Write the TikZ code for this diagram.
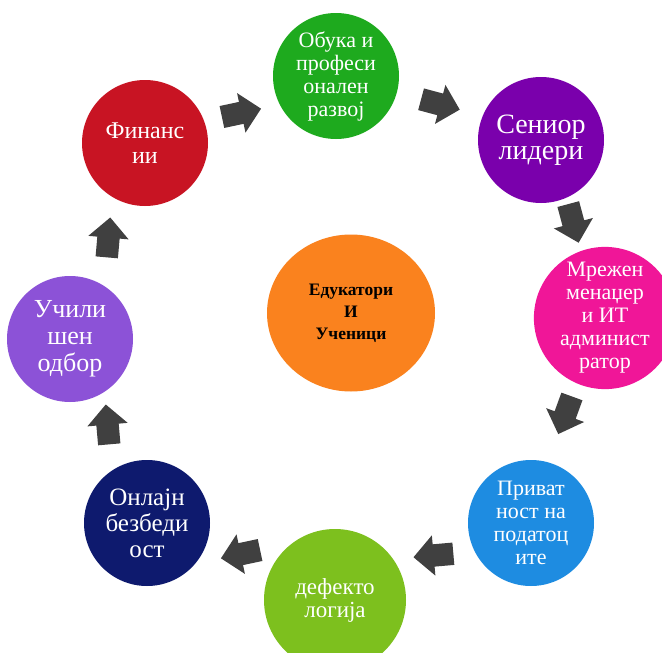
\documentclass[tikz,border=0pt]{standalone}
\usepackage{fontspec}
\setmainfont{Liberation Serif}
\usetikzlibrary{shapes.geometric,shapes.arrows}
\definecolor{cgreen}{RGB}{30,170,30}
\definecolor{cpurple}{RGB}{122,0,172}
\definecolor{cpink}{RGB}{240,22,152}
\definecolor{cblue}{RGB}{30,140,225}
\definecolor{clime}{RGB}{125,192,30}
\definecolor{cnavy}{RGB}{14,26,110}
\definecolor{cviolet}{RGB}{140,82,215}
\definecolor{cred}{RGB}{200,20,35}
\definecolor{corange}{RGB}{250,130,30}
\definecolor{agray}{RGB}{64,64,64}
\begin{document}
\begin{tikzpicture}[x=1pt,y=-1pt,
  bub/.style={circle, minimum size=126pt, inner sep=0pt, text=white, align=center,
    font=\fontsize{22}{23}\selectfont},
  blk/.style={single arrow, fill=agray, draw=none, inner xsep=0pt, inner ysep=11pt,
    minimum height=40pt, minimum width=40pt, single arrow head extend=9pt,
    single arrow head indent=0pt}]
\useasboundingbox (0,0) rectangle (662,653);
\clip (0,0) rectangle (662,653);
\fill[white] (0,0) rectangle (662,653);

\node[bub, fill=cgreen] (obuka) at (336,76) {Обука и\\професи\\онален\\развој};
\node[bub, fill=cpurple, font=\fontsize{28}{26}\selectfont] (senior) at (541,140) {Сениор\\лидери};
\node[bub, fill=cpink, minimum size=128pt] (mrezhen) at (605,318) {Мрежен\\менаџер\\и ИТ\\админист\\ратор};
\node[bub, fill=cblue] (privat) at (531,523) {Приват\\ност на\\податоц\\ите};
\node[bub, fill=clime, minimum size=142pt, font=\fontsize{23}{23}\selectfont] (defekto) at (335,600) {дефекто\\логија};
\node[bub, fill=cnavy, font=\fontsize{25}{26}\selectfont] (onlajn) at (147,523) {Онлајн\\безбеди\\ост};
\node[bub, fill=cviolet, font=\fontsize{26}{27}\selectfont] (uchili) at (70,339) {Учили\\шен\\одбор};
\node[bub, fill=cred, font=\fontsize{24}{25}\selectfont] (finans) at (145,143) {Финанс\\ии};

\node[ellipse, fill=corange, minimum width=168pt, minimum height=157pt, inner sep=0pt,
  align=center, font=\fontsize{17.5}{22}\selectfont\bfseries] (center) at (351,313)
  {Едукатори\\И\\Ученици};

\node[blk, rotate=12] (a1) at (236,114) {};
\node[blk, rotate=-15] (a2) at (435,103) {};
\node[blk, rotate=-75] (a3) at (572,218) {};
\node[blk, rotate=-110] (a4) at (567,410) {};
\node[blk, rotate=185] (a5) at (439,555) {};
\node[blk, rotate=192] (a6) at (246,553) {};
\node[blk, rotate=95] (a7) at (108,430) {};
\node[blk, rotate=85] (a8) at (108,243) {};
\end{tikzpicture}
\end{document}
